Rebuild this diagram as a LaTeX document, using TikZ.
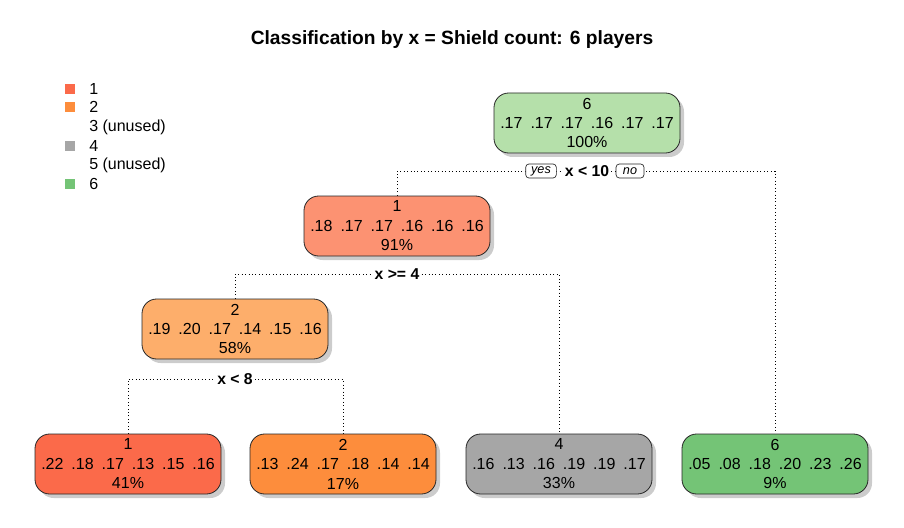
\documentclass[tikz,border=0pt]{standalone}
\usepackage{fontspec}
\setmainfont{Liberation Sans}
\usetikzlibrary{positioning,shadows,backgrounds}

\definecolor{rootgreen}{HTML}{B5E0AA}
\definecolor{salmon}{HTML}{FC9272}
\definecolor{lightorange}{HTML}{FDAE6B}
\definecolor{leafred}{HTML}{FB6A4A}
\definecolor{leaforange}{HTML}{FD8D3C}
\definecolor{leafgrey}{HTML}{A6A6A6}
\definecolor{leafgreen}{HTML}{74C476}

\begin{document}
\begin{tikzpicture}[x=0.75pt,y=-0.75pt,
  box/.style={draw=black!85, line width=0.6pt, rounded corners=11pt,
    minimum width=139.5pt, minimum height=45pt, inner sep=0pt, align=center,
    font=\fontsize{12}{14.6}\selectfont,
    drop shadow={shadow xshift=3pt, shadow yshift=-3pt, fill=black!40}},
  split/.style={fill=white, inner sep=1.5pt, font=\fontsize{11.8}{13}\selectfont\bfseries},
  yn/.style={draw=black!85, line width=0.5pt, rounded corners=2.5pt, fill=white,
    inner xsep=2.5pt, inner ysep=1.5pt, minimum height=10.5pt,
    font=\fontsize{9.5}{10}\selectfont\itshape},
  dotline/.style={dotted, line width=0.6pt},
  legsq/.style={minimum size=7.5pt, inner sep=0pt},
  legtxt/.style={anchor=west, inner sep=0pt, font=\fontsize{12}{14}\selectfont}]

\useasboundingbox (0,0) rectangle (904,528);

% title
\node[font=\fontsize{14.4}{17}\selectfont\bfseries] (title) at (452,40)
  {Classification by x = Shield count: 6 players};

% legend
\node[legsq, fill=leafred] (k1) at (70,89) {};
\node[legtxt] (t1) at (89,89) {1};
\node[legsq, fill=leaforange] (k2) at (70,107) {};
\node[legtxt] (t2) at (89,107) {2};
\node[legtxt] (t3) at (89,127) {3 (unused)};
\node[legsq, fill=leafgrey] (k4) at (70,146) {};
\node[legtxt] (t4) at (89,146) {4};
\node[legtxt] (t5) at (89,165) {5 (unused)};
\node[legsq, fill=leafgreen] (k6) at (70,184) {};
\node[legtxt] (t6) at (89,184) {6};

% inner nodes
\node[box, fill=rootgreen] (root) at (587,123)
  {6\\.17\enspace .17\enspace .17\enspace .16\enspace .17\enspace .17\\100\%};
\node[box, fill=salmon] (n1) at (397,226)
  {1\\.18\enspace .17\enspace .17\enspace .16\enspace .16\enspace .16\\91\%};
\node[box, fill=lightorange] (n2) at (235,329)
  {2\\.19\enspace .20\enspace .17\enspace .14\enspace .15\enspace .16\\58\%};

% leaves
\node[box, fill=leafred] (leaf1) at (128,464)
  {1\\.22\enspace .18\enspace .17\enspace .13\enspace .15\enspace .16\\41\%};
\node[box, fill=leaforange] (leaf2) at (343,464)
  {2\\.13\enspace .24\enspace .17\enspace .18\enspace .14\enspace .14\\17\%};
\node[box, fill=leafgrey] (leaf4) at (559,464)
  {4\\.16\enspace .13\enspace .16\enspace .19\enspace .19\enspace .17\\33\%};
\node[box, fill=leafgreen] (leaf6) at (775,464)
  {6\\.05\enspace .08\enspace .18\enspace .20\enspace .23\enspace .26\\9\%};

% split labels
\node[split] (s0) at (587,171) {x < 10};
\node[yn, minimum width=23pt] (yes) at (541,171) {yes};
\node[yn, minimum width=21pt] (no) at (630,171) {no};
\node[split] (s1) at (397,274) {x >= 4};
\node[split] (s2) at (235,379) {x < 8};

% connectors
\begin{scope}[on background layer]
\draw[dotline] (n1.north) |- (s0) -| (leaf6.north);
\draw[dotline] (n2.north) |- (s1) -| (leaf4.north);
\draw[dotline] (leaf1.north) |- (s2) -| (leaf2.north);
\end{scope}
\end{tikzpicture}
\end{document}
